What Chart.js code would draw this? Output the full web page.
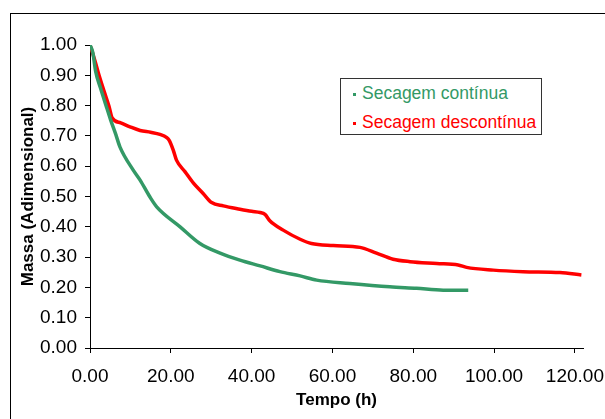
<!DOCTYPE html>
<html>
<head>
<meta charset="utf-8">
<script src="https://cdn.jsdelivr.net/npm/chart.js@4"></script>
<style>
    html, body { margin: 0; padding: 0; background: #fff; }
    .wrap { position: relative; width: 605px; height: 419px; overflow: hidden; }
    .frame { position: absolute; left: 10px; top: 13px; width: 700px; height: 500px; border-left: 1px solid #000; border-top: 1px solid #000; }
    canvas { position: absolute; left: 0; top: 0; }
    .legend { position: absolute; left: 340px; top: 78px; width: 200px; height: 55px; border: 1px solid #333; background: #fff;
              font-family: "Liberation Sans", Arial, sans-serif; font-size: 17.5px; }
    .legend div { position: absolute; left: 12px; white-space: nowrap; }
    .legend span { display: inline-block; width: 3px; height: 3px; margin-right: 6px; vertical-align: middle; }
</style>
</head>
<body>
<div class="wrap">
    <div class="frame"></div>
    <canvas id="chart" width="605" height="419"></canvas>
    <div class="legend" id="legend"></div>
</div>
<script>
// Secagem contínua
const contT = [0, 0.7, 1.4, 2.6, 3.9, 5.1, 6.4, 7.4, 10.7, 12.4, 14.8, 16.5, 22.3, 27.2, 32.2, 37.1, 42.1, 47, 52, 56.1, 64.3, 74.2, 80.8, 87.4, 93.6];
const contM = [1.00, 0.975, 0.913, 0.858, 0.803, 0.753, 0.704, 0.664, 0.587, 0.554, 0.499, 0.466, 0.400, 0.345, 0.313, 0.290, 0.271, 0.252, 0.238, 0.224, 0.213, 0.202, 0.197, 0.191, 0.191];

// Secagem descontínua
const descT = [0, 0.6, 1.4, 2.2, 3.5, 4.7, 5.5, 7.6, 9.9, 12.4, 15, 17.3, 19, 19.6, 20.6, 21.4, 23.5, 25.6, 28, 30.1, 33, 37.1, 40, 42.1, 43.3, 44.5, 47.8, 52, 54.8, 60.2, 66.8, 70.9, 75, 79.2, 85.8, 91.1, 93.2, 99.8, 107.2, 116.3, 121.6];
const descM = [1.00, 0.975, 0.94, 0.902, 0.847, 0.798, 0.759, 0.743, 0.730, 0.718, 0.712, 0.705, 0.694, 0.685, 0.653, 0.62, 0.582, 0.544, 0.51, 0.48, 0.469, 0.458, 0.451, 0.447, 0.441, 0.42, 0.389, 0.359, 0.345, 0.338, 0.332, 0.313, 0.293, 0.285, 0.279, 0.274, 0.266, 0.257, 0.252, 0.249, 0.241];

const seriesNames = ['Secagem contínua', 'Secagem descontínua'];
const seriesColors = ['#339966', '#ff0000'];

const xTicks = [0, 20, 40, 60, 80, 100, 120];
const yTicks = [0, 0.1, 0.2, 0.3, 0.4, 0.5, 0.6, 0.7, 0.8, 0.9, 1.0];

const toPoints = (ts, ms) => ts.map((t, i) => ({ x: t, y: ms[i] }));

const font = { family: '"Liberation Sans", Arial, sans-serif', size: 19 };
const titleFont = { family: '"Liberation Sans", Arial, sans-serif', size: 17, weight: 'bold' };

const lineStyle = { showLine: true, borderWidth: 3.5, pointRadius: 0, cubicInterpolationMode: 'monotone' };

new Chart(document.getElementById('chart').getContext('2d'), {
    type: 'scatter',
    data: {
        datasets: [
            { label: seriesNames[0], data: toPoints(contT, contM), borderColor: seriesColors[0], backgroundColor: seriesColors[0], ...lineStyle },
            { label: seriesNames[1], data: toPoints(descT, descM), borderColor: seriesColors[1], backgroundColor: seriesColors[1], ...lineStyle }
        ]
    },
    options: {
        responsive: false,
        animation: false,
        layout: { padding: { top: 45, right: 22, bottom: 0, left: 0 } },
        plugins: { legend: { display: false }, tooltip: { enabled: false } },
        scales: {
            x: {
                type: 'linear', min: 0, max: 122,
                afterBuildTicks: s => { s.ticks = xTicks.map(v => ({ value: v })); },
                afterFit: s => { s.height = 71; s.paddingLeft = 0; s.paddingRight = 0; },
                ticks: { color: '#000', font: font, padding: 12, maxRotation: 0, callback: v => v.toFixed(2) },
                grid: { drawOnChartArea: false, drawTicks: true, tickLength: 5, tickColor: '#000' },
                border: { color: '#000', width: 1 },
                title: { display: true, text: 'Tempo (h)', color: '#000', font: titleFont, padding: { top: 0, bottom: 8 } }
            },
            y: {
                type: 'linear', min: 0, max: 1,
                afterBuildTicks: s => { s.ticks = yTicks.map(v => ({ value: v })); },
                afterFit: s => { s.width = 90; s.paddingTop = 0; s.paddingBottom = 0; },
                ticks: { color: '#000', font: font, padding: 8, callback: v => v.toFixed(2) },
                grid: { drawOnChartArea: false, drawTicks: true, tickLength: 5, tickColor: '#000' },
                border: { color: '#000', width: 1 },
                title: { display: true, text: 'Massa (Adimensional)', color: '#000', font: titleFont, padding: { top: 18, bottom: 0 } }
            }
        }
    }
});

// Legend box
const legend = document.getElementById('legend');
seriesNames.forEach((name, i) => {
    const row = document.createElement('div');
    row.style.top = (i === 0 ? 4 : 33) + 'px';
    row.style.color = seriesColors[i];
    row.innerHTML = `<span style="background:${seriesColors[i]}"></span>${name}`;
    legend.appendChild(row);
});
</script>
</body>
</html>
